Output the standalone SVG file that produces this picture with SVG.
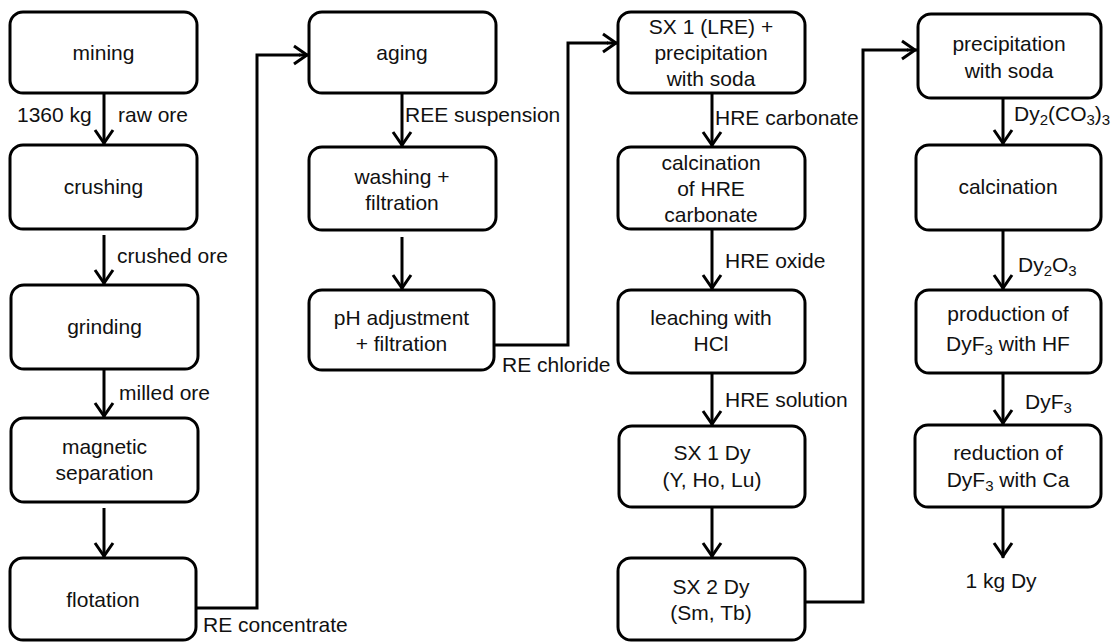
<svg xmlns="http://www.w3.org/2000/svg" width="1114" height="642" viewBox="0 0 1114 642">
<style>
.box{fill:#fff;stroke:#000;stroke-width:3}
.t{font-family:"Liberation Sans",Arial,sans-serif;font-size:21px;fill:#111;text-anchor:middle}
.l{font-family:"Liberation Sans",Arial,sans-serif;font-size:21px;fill:#111;text-anchor:start}
.c{fill:none;stroke:#000;stroke-width:3;stroke-linejoin:miter}
.a{fill:none;stroke:#000;stroke-width:3;marker-end:url(#ah)}
.s{font-size:15px}
</style>
<defs>
<marker id="ah" markerUnits="userSpaceOnUse" markerWidth="22" markerHeight="24" refX="16" refY="10" orient="auto" overflow="visible">
<path d="M1,1 L14,10 L1,19" fill="none" stroke="#000" stroke-width="3"/>
</marker>
</defs>
<rect width="1114" height="642" fill="#fff"/>
<g id="mining"><rect class="box" x="10" y="12" width="187" height="81" rx="13"/><text class="t" x="103.5" y="60">mining</text></g>
<g id="crushing"><rect class="box" x="10" y="145" width="187" height="84" rx="13"/><text class="t" x="103.5" y="194">crushing</text></g>
<g id="grinding"><rect class="box" x="11" y="285" width="187" height="84" rx="13"/><text class="t" x="104.5" y="334">grinding</text></g>
<g id="magnetic"><rect class="box" x="11" y="418" width="187" height="84" rx="13"/><text class="t" x="104.5" y="454">magnetic</text><text class="t" x="104.5" y="480">separation</text></g>
<g id="flotation"><rect class="box" x="10" y="558" width="186" height="82" rx="13"/><text class="t" x="103" y="607">flotation</text></g>
<g id="aging"><rect class="box" x="309" y="12" width="187" height="81" rx="13"/><text class="t" x="402" y="60">aging</text></g>
<g id="washing"><rect class="box" x="309" y="147" width="187" height="83" rx="13"/><text class="t" x="402" y="184">washing +</text><text class="t" x="402" y="210">filtration</text></g>
<g id="ph"><rect class="box" x="309" y="290" width="185" height="80" rx="13"/><text class="t" x="401.5" y="325">pH adjustment</text><text class="t" x="401.5" y="351">+ filtration</text></g>
<g id="sx1lre"><rect class="box" x="618" y="12" width="187" height="81" rx="13"/><text class="t" x="711" y="34">SX 1 (LRE) +</text><text class="t" x="711" y="60">precipitation</text><text class="t" x="711" y="86">with soda</text></g>
<g id="calcHRE"><rect class="box" x="618" y="147" width="187" height="82" rx="13"/><text class="t" x="711" y="169.5">calcination</text><text class="t" x="711" y="195.5">of HRE</text><text class="t" x="711" y="221.5">carbonate</text></g>
<g id="leaching"><rect class="box" x="618" y="290" width="187" height="83" rx="13"/><text class="t" x="711" y="325">leaching with</text><text class="t" x="711" y="351">HCl</text></g>
<g id="sx1dy"><rect class="box" x="619" y="426" width="186" height="81" rx="13"/><text class="t" x="712" y="460">SX 1 Dy</text><text class="t" x="712" y="487">(Y, Ho, Lu)</text></g>
<g id="sx2dy"><rect class="box" x="618" y="558" width="187" height="82" rx="13"/><text class="t" x="711" y="594">SX 2 Dy</text><text class="t" x="711" y="620">(Sm, Tb)</text></g>
<g id="precip"><rect class="box" x="918" y="14" width="183" height="84" rx="13"/><text class="t" x="1009" y="51">precipitation</text><text class="t" x="1009" y="78">with soda</text></g>
<g id="calcination"><rect class="box" x="916" y="145" width="185" height="85" rx="13"/><text class="t" x="1008" y="194">calcination</text></g>
<g id="production"><rect class="box" x="916" y="290" width="185" height="83" rx="13"/><text class="t" x="1008" y="321">production of</text><text class="t" x="1008" y="351">DyF<tspan class="s" dy="4">3</tspan><tspan dy="-4"> with HF</tspan></text></g>
<g id="reduction"><rect class="box" x="915" y="425" width="186" height="82" rx="13"/><text class="t" x="1008" y="460">reduction of</text><text class="t" x="1008" y="487">DyF<tspan class="s" dy="4">3</tspan><tspan dy="-4"> with Ca</tspan></text></g>
<g id="connectors">
<line class="a" x1="104" y1="93" x2="104" y2="145"/>
<line class="a" x1="104" y1="235" x2="104" y2="285"/>
<line class="a" x1="104" y1="369" x2="104" y2="418"/>
<line class="a" x1="104" y1="508" x2="104" y2="558"/>
<path class="c" d="M196,608 H257 V55 H300"/>
<line class="a" x1="299" y1="55" x2="309" y2="55"/>
<line class="a" x1="402" y1="93" x2="402" y2="147"/>
<line class="a" x1="402" y1="237" x2="402" y2="290"/>
<path class="c" d="M494,345 H568 V43 H608"/>
<line class="a" x1="607" y1="43" x2="618" y2="43"/>
<line class="a" x1="712" y1="93" x2="712" y2="147"/>
<line class="a" x1="712" y1="229" x2="712" y2="290"/>
<line class="a" x1="712" y1="373" x2="712" y2="426"/>
<line class="a" x1="712" y1="507" x2="712" y2="558"/>
<path class="c" d="M805,602 H863 V50 H908"/>
<line class="a" x1="907" y1="50" x2="917" y2="50"/>
<line class="a" x1="1003" y1="98" x2="1003" y2="145"/>
<line class="a" x1="1003" y1="230" x2="1003" y2="290"/>
<line class="a" x1="1003" y1="373" x2="1003" y2="425"/>
<line class="a" x1="1003" y1="507" x2="1003" y2="558"/>
<text class="l" x="17" y="122">1360 kg</text>
<text class="l" x="118" y="122">raw ore</text>
<text class="l" x="117" y="263">crushed ore</text>
<text class="l" x="119" y="400">milled ore</text>
<text class="l" x="203" y="632">RE concentrate</text>
<text class="l" x="405" y="122">REE suspension</text>
<text class="l" x="502" y="372">RE chloride</text>
<text class="l" x="715" y="125">HRE carbonate</text>
<text class="l" x="725" y="268">HRE oxide</text>
<text class="l" x="725" y="407">HRE solution</text>
<text class="l" x="1014" y="121">Dy<tspan class="s" dy="4">2</tspan><tspan dy="-4">(CO</tspan><tspan class="s" dy="4">3</tspan><tspan dy="-4">)</tspan><tspan class="s" dy="4">3</tspan></text>
<text class="l" x="1018" y="272">Dy<tspan class="s" dy="4">2</tspan><tspan dy="-4">O</tspan><tspan class="s" dy="4">3</tspan></text>
<text class="l" x="1025" y="409">DyF<tspan class="s" dy="4">3</tspan></text>
<text class="t" x="1001" y="588">1 kg Dy</text>
</g>
</svg>
